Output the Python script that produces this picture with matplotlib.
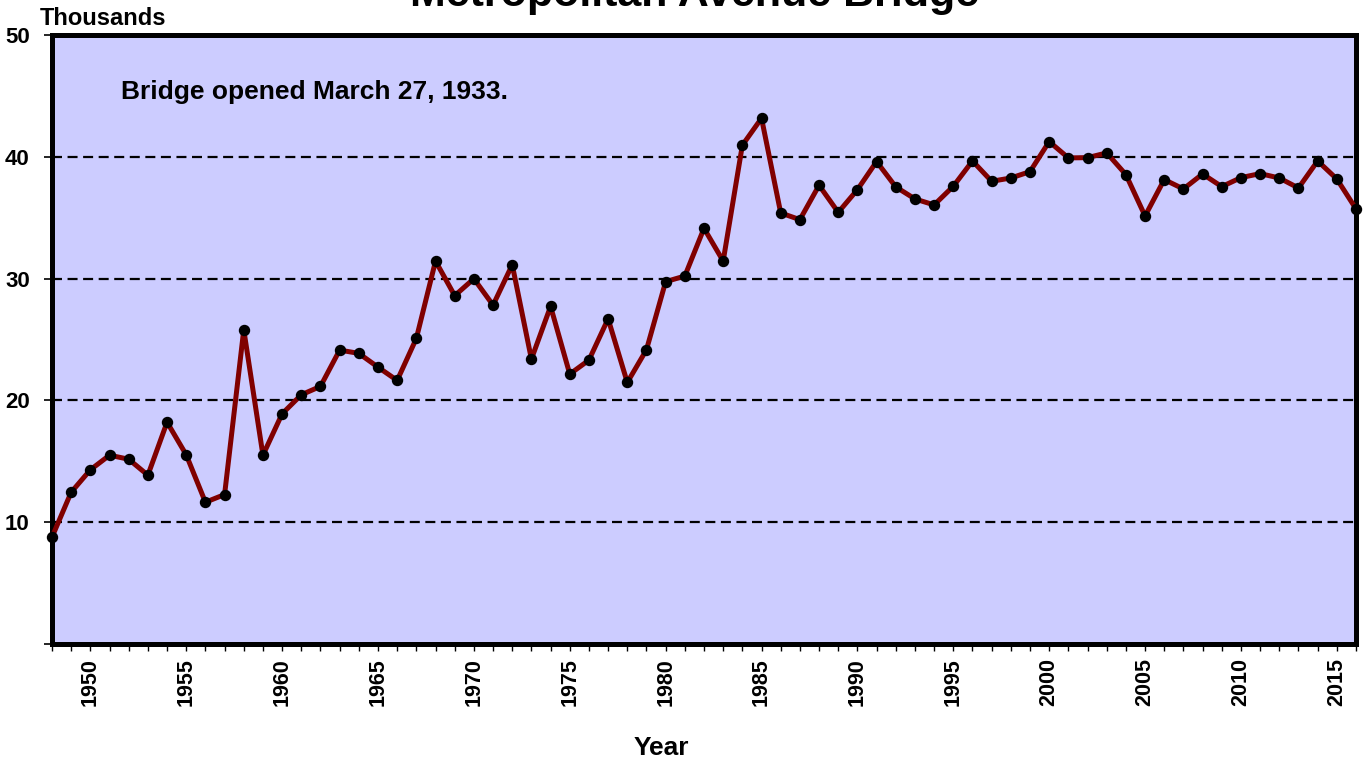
import matplotlib
matplotlib.use("Agg")
import matplotlib.pyplot as plt
from matplotlib.ticker import FixedLocator, MultipleLocator

plt.rcParams['font.family'] = ['Liberation Sans', 'DejaVu Sans']
plt.rcParams['font.weight'] = 'bold'

# Annual average daily traffic, in thousands of vehicles
years = list(range(1948, 2017))
traffic = [
    8.77, 12.46, 14.30, 15.50, 15.17, 13.86, 18.21, 15.53, 11.64, 12.27,
    25.80, 15.50, 18.90, 20.46, 21.15, 24.13, 23.86, 22.73, 21.64, 25.09,
    31.44, 28.60, 29.99, 27.82, 31.14, 23.39, 27.72, 22.16, 23.31, 26.70,
    21.47, 24.16, 29.75, 30.21, 34.13, 31.44, 40.95, 43.17, 35.39, 34.84,
    37.66, 35.44, 37.30, 39.61, 37.53, 36.54, 36.05, 37.58, 39.66, 37.99,
    38.26, 38.78, 41.25, 39.91, 39.93, 40.32, 38.54, 35.14, 38.13, 37.36,
    38.59, 37.55, 38.29, 38.62, 38.26, 37.44, 39.66, 38.18, 35.72,
]
y_ticks = [0, 10, 20, 30, 40, 50]
y_tick_labels = ['', '10', '20', '30', '40', '50']
x_label_years = list(range(1950, 2016, 5))

W, H = 1364, 759
fig = plt.figure(figsize=(W / 100, H / 100), dpi=100)
fig.patch.set_facecolor('white')

left, right, top, bottom = 52, 1356, 35, 644
ax = fig.add_axes([left / W, 1 - bottom / H, (right - left) / W, (bottom - top) / H])
ax.set_facecolor('#CCCCFF')

ax.set_xlim(1948, 2016)
ax.set_ylim(0, 50)

# dashed horizontal gridlines
for v in y_ticks[1:-1]:
    ax.axhline(v, color='black', lw=1.6, linestyle=(0, (4.5, 2.5)), zorder=1)

ax.plot(years, traffic, color='#800000', lw=3.6, zorder=3, clip_on=False,
        marker='o', markersize=7.2, markerfacecolor='black',
        markeredgecolor='black')

for s in ax.spines.values():
    s.set_linewidth(3.6)
    s.set_color('black')
    s.set_zorder(2)

ax.yaxis.set_major_locator(FixedLocator(y_ticks))
ax.set_yticklabels(y_tick_labels)
ax.tick_params(axis='y', direction='out', length=6, width=1.2, pad=10,
               labelsize=16)

ax.xaxis.set_major_locator(FixedLocator(x_label_years))
ax.xaxis.set_minor_locator(MultipleLocator(1))
ax.set_xticklabels([str(y) for y in x_label_years], rotation=90)
ax.tick_params(axis='x', which='both', direction='out', length=5, width=1.0)
ax.tick_params(axis='x', which='major', labelsize=15.5, pad=5)
for lab in ax.get_xticklabels() + ax.get_yticklabels():
    lab.set_fontweight('bold')

fig.text(661 / W, 1 - 755 / H, 'Year', fontsize=19, fontweight='bold',
         va='baseline', ha='center')

ax.text((121 - left) / (right - left), (bottom - 99) / (bottom - top),
        'Bridge opened March 27, 1933.', transform=ax.transAxes,
        fontsize=19, fontweight='bold', va='baseline', ha='left')

fig.text(40 / W, 1 - 25 / H, 'Thousands', fontsize=17, fontweight='bold',
         va='baseline', ha='left')
fig.text(695 / W, 1 - 6 / H, 'Metropolitan Avenue Bridge', fontsize=31,
         fontweight='bold', va='baseline', ha='center')

fig.savefig('out.png', dpi=100)
